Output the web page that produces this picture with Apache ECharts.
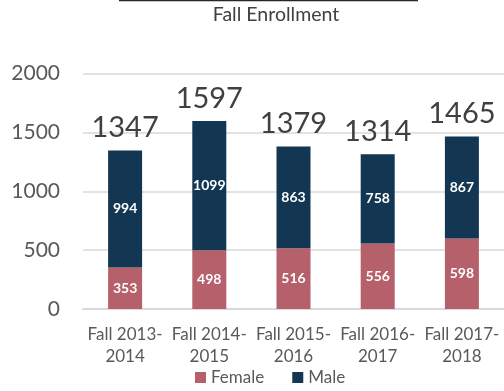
<!DOCTYPE html>
<html>
<head>
<meta charset="utf-8">
<script src="https://cdn.jsdelivr.net/npm/echarts@6/dist/echarts.min.js"></script>
<style>
  html, body { margin: 0; padding: 0; background: #fff; }
  #chart { width: 504px; height: 391px; }
</style>
</head>
<body>
<div id="chart"></div>
<script>
// Enrollment by term, split by gender
const categories = ['Fall 2013-\n2014', 'Fall 2014-\n2015', 'Fall 2015-\n2016', 'Fall 2016-\n2017', 'Fall 2017-\n2018'];
const female = [353, 498, 516, 556, 598];
const male = [994, 1099, 863, 758, 867];
const totals = [1347, 1597, 1379, 1314, 1465];
const yTicks = [0, 500, 1000, 1500, 2000];

const FONT = 'Lato, "Open Sans", sans-serif';
const chart = echarts.init(document.getElementById('chart'));

chart.setOption({
  animation: false,
  textStyle: { fontFamily: FONT },
  graphic: [
    {
      type: 'line',
      shape: { x1: 119, y1: 0.5, x2: 418, y2: 0.5 },
      style: { stroke: '#262626', lineWidth: 1.5 }
    },
    {
      type: 'text',
      x: 276,
      y: 15,
      style: {
        text: 'Fall Enrollment',
        fill: '#404040',
        fontSize: 19.5,
        fontFamily: FONT,
        align: 'center',
        verticalAlign: 'middle'
      }
    }
  ],
  legend: {
    bottom: 0,
    left: 190,
    itemWidth: 11,
    itemHeight: 11,
    itemGap: 28,
    icon: 'rect',
    textStyle: { fontSize: 17, color: '#595959', fontFamily: FONT },
    data: ['Female', 'Male']
  },
  grid: { left: 83, top: 73.5, width: 425, height: 235.5, containLabel: false },
  xAxis: {
    type: 'category',
    data: categories,
    axisLine: { lineStyle: { color: '#d9d9d9', width: 2 } },
    axisTick: { show: false },
    axisLabel: { interval: 0, fontSize: 17, color: '#595959', lineHeight: 22, margin: 15, fontFamily: FONT }
  },
  yAxis: {
    type: 'value',
    min: yTicks[0],
    max: yTicks[yTicks.length - 1],
    interval: 500,
    axisLine: { show: false },
    axisTick: { show: false },
    splitLine: { lineStyle: { color: '#d9d9d9', width: 1.5 } },
    axisLabel: { fontSize: 21, color: '#595959', margin: 23, fontFamily: FONT, formatter: v => String(v) }
  },
  series: [
    {
      name: 'Female',
      type: 'bar',
      stack: 'total',
      barWidth: 34,
      data: female,
      itemStyle: { color: '#B5606B' },
      label: {
        show: true, position: 'inside', color: '#fff', fontSize: 14, fontWeight: 'bold', fontFamily: FONT
      }
    },
    {
      name: 'Male',
      type: 'bar',
      stack: 'total',
      barWidth: 34,
      data: male,
      itemStyle: { color: '#133652' },
      label: {
        show: true, position: 'inside', color: '#fff', fontSize: 14, fontWeight: 'bold', fontFamily: FONT
      }
    },
    {
      // zero-height carrier for the total labels above each stack
      name: 'Total',
      type: 'bar',
      stack: 'total',
      barWidth: 34,
      data: totals.map(() => 0),
      itemStyle: { color: 'transparent' },
      label: {
        show: true,
        position: 'top',
        distance: 8,
        color: '#404040',
        fontSize: 29,
        fontFamily: FONT,
        formatter: p => totals[p.dataIndex]
      },
      tooltip: { show: false }
    }
  ]
});
</script>
</body>
</html>
